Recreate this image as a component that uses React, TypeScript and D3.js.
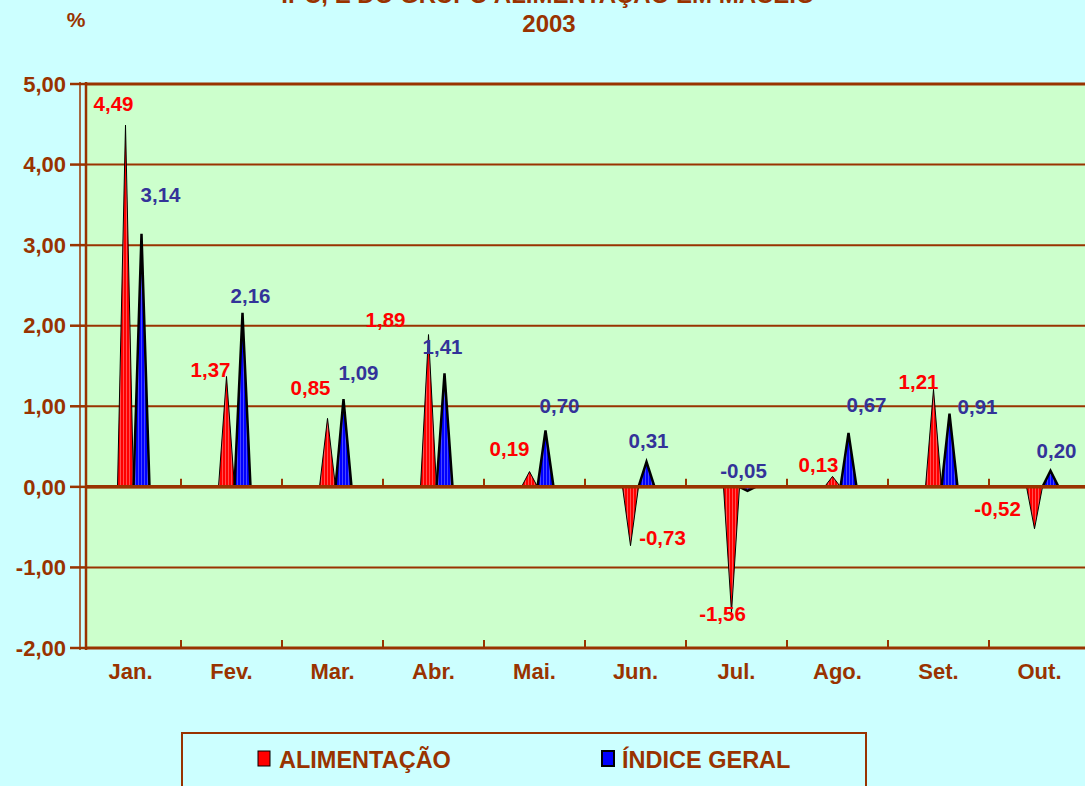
import React from "react";
import * as d3 from "d3";

const months = ["Jan.", "Fev.", "Mar.", "Abr.", "Mai.", "Jun.", "Jul.", "Ago.", "Set.", "Out."];
const alimentacao = [4.49, 1.37, 0.85, 1.89, 0.19, -0.73, -1.56, 0.13, 1.21, -0.52];
const indiceGeral = [3.14, 2.16, 1.09, 1.41, 0.7, 0.31, -0.05, 0.67, 0.91, 0.2];
const yTicks = [-2, -1, 0, 1, 2, 3, 4, 5];
// hand-placed label offsets (px from spike tip), as in the original sheet
const alimLabelOffset = [[-12, -21], [-16, -7], [-17, -31], [-43, -15], [-20, -23], [32, -8], [-9, 1], [-14, -12], [-15, -8], [-37, -20]];
const geralLabelOffset = [[19, -39], [8, -17], [15, -26], [-2, -26], [14, -25], [2, -21], [-4, -20], [18, -28], [28, -7], [6, -20]];

const W = 1085;
const H = 786;
const BROWN = "#993300";
const FONT = "Arial, 'Liberation Sans', sans-serif";
const fmt = (v: number) => v.toFixed(2).replace(".", ",");

export default function App() {
  const x = d3.scaleBand().domain(months).range([80, 1090]);
  const y = d3.scaleLinear().domain([-2, 5]).range([648, 84]);
  const half = 8;
  const series = [
    { name: "ALIMENTAÇÃO", values: alimentacao, fill: "url(#redStripe)", color: "#FF0000", shift: -5, stroke: 1, offsets: alimLabelOffset },
    { name: "ÍNDICE GERAL", values: indiceGeral, fill: "url(#blueStripe)", color: "#333399", shift: 11, stroke: 2.5, offsets: geralLabelOffset },
  ];
  const spike = (cx: number, v: number) => {
    const p = d3.path();
    p.moveTo(cx - half, y(0));
    p.lineTo(cx, y(v));
    p.lineTo(cx + half, y(0));
    p.closePath();
    return p.toString();
  };

  return (
    <svg width={W} height={H} style={{ position: "absolute", left: 0, top: 0 }} fontFamily={FONT}>
      <defs>
        <pattern id="redStripe" width="3" height="10" patternUnits="userSpaceOnUse">
          <rect width="3" height="10" fill="#FF0000" />
          <rect width="1" height="10" fill="#FF5050" />
        </pattern>
        <pattern id="blueStripe" width="3" height="10" patternUnits="userSpaceOnUse">
          <rect width="3" height="10" fill="#0000FF" />
          <rect width="1" height="10" fill="#4848FF" />
        </pattern>
      </defs>
      <rect width={W} height={H} fill="#CCFFFF" />
      <rect x={86} y={y(5)} width={W} height={y(-2) - y(5)} fill="#CCFFCC" />

      {/* title (first line runs off the top, as in the source) */}
      <text x={548} y={3} textAnchor="middle" fontWeight="bold" fontSize={24} fill={BROWN}>
        IPC, E DO GRUPO ALIMENTAÇÃO EM MACEIÓ
      </text>
      <text x={549} y={32} textAnchor="middle" fontWeight="bold" fontSize={24} fill={BROWN}>2003</text>
      <text x={76} y={27} textAnchor="middle" fontWeight="bold" fontSize={21} fill={BROWN}>%</text>

      {/* grid */}
      {yTicks.map((t) => (
        <g key={t}>
          <line x1={86} x2={W} y1={y(t)} y2={y(t)} stroke={BROWN} strokeWidth={t === 0 || t === 5 || t === -2 ? 3 : 2} />
          <line x1={70} x2={86} y1={y(t)} y2={y(t)} stroke={BROWN} strokeWidth={2.5} />
          <text x={66} y={y(t)} dy="0.35em" textAnchor="end" fontWeight="bold" fontSize={22} fill={BROWN}>{fmt(t)}</text>
        </g>
      ))}
      <line x1={80} x2={80} y1={y(5) - 2} y2={y(-2) + 2} stroke={BROWN} strokeWidth={1.5} />
      <line x1={86} x2={86} y1={y(5) - 2} y2={y(-2) + 2} stroke={BROWN} strokeWidth={2.5} />

      {/* spikes */}
      {series.map((s) =>
        months.map((m, i) => {
          const cx = (x(m) as number) + x.bandwidth() / 2 + s.shift;
          return (
            <path key={s.name + m} d={spike(cx, s.values[i])} fill={s.fill} stroke="#000" strokeWidth={s.stroke} strokeLinejoin="miter" />
          );
        })
      )}

      {/* zero line and category ticks */}
      <line x1={86} x2={W} y1={y(0)} y2={y(0)} stroke={BROWN} strokeWidth={3.5} />
      {months.slice(1).map((m) => (
        <g key={m}>
          <line x1={x(m)} x2={x(m)} y1={y(0)} y2={y(0) - 8} stroke={BROWN} strokeWidth={2} />
          <line x1={x(m)} x2={x(m)} y1={y(-2)} y2={y(-2) - 8} stroke={BROWN} strokeWidth={2} />
        </g>
      ))}
      {months.map((m) => (
        <text key={m} x={(x(m) as number) + x.bandwidth() / 2} y={671} dy="0.35em" textAnchor="middle" fontWeight="bold" fontSize={22} fill={BROWN}>{m}</text>
      ))}

      {/* value labels */}
      {series.map((s) =>
        months.map((m, i) => {
          const cx = (x(m) as number) + x.bandwidth() / 2 + s.shift;
          const [dx, dy] = s.offsets[i];
          return (
            <text key={"l" + s.name + m} x={cx + dx} y={y(s.values[i]) + dy} dy="0.35em" textAnchor="middle" fontWeight="bold" fontSize={20.5} fill={s.color}>
              {fmt(s.values[i])}
            </text>
          );
        })
      )}

      {/* legend */}
      <rect x={182} y={733} width={684} height={70} fill="none" stroke={BROWN} strokeWidth={2} />
      <rect x={258} y={751} width={12} height={15} fill="#FF0000" stroke="#000" strokeWidth={1} />
      <text x={279} y={760} dy="0.35em" fontWeight="bold" fontSize={23.5} fill={BROWN}>ALIMENTAÇÃO</text>
      <rect x={602} y={751} width={12} height={15} fill="#0000FF" stroke="#000" strokeWidth={2} />
      <text x={622} y={760} dy="0.35em" fontWeight="bold" fontSize={23.5} fill={BROWN}>ÍNDICE GERAL</text>
    </svg>
  );
}
